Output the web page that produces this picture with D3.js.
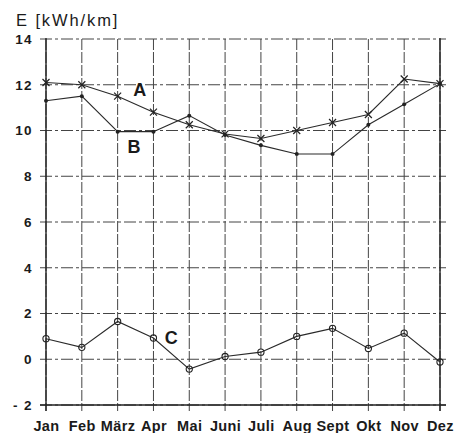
<!DOCTYPE html>
<html>
<head>
<meta charset="utf-8">
<script src="https://cdn.jsdelivr.net/npm/d3@7"></script>
<style>
  body { margin: 0; background: #fff; }
  svg { display: block; font-family: "Liberation Sans", Arial, sans-serif; }
  .grid { stroke: #444; stroke-width: 1; fill: none; }
  .grid.x { stroke-dasharray: 11 2; }
  .grid.y { stroke-dasharray: 12 3 3 3; }
  .frame { stroke: #222; stroke-width: 1.4; }
  .series { fill: none; stroke: #2a2a2a; stroke-width: 1.1; }
  .tick-label { font-weight: bold; fill: #1a1a1a; }
  .series-label { font-weight: bold; font-size: 18px; fill: #1a1a1a; }
</style>
</head>
<body>
<svg width="467" height="433"></svg>
<script>
const months = ['Jan', 'Feb', 'März', 'Apr', 'Mai', 'Juni', 'Juli', 'Aug', 'Sept', 'Okt', 'Nov', 'Dez']
    , seriesA = [12.1, 12.0, 11.5, 10.8, 10.25, 9.85, 9.65, 10.0, 10.35, 10.7, 12.25, 12.05]
    , seriesB = [11.3, 11.5, 9.95, 9.95, 10.65, 9.8, 9.35, 8.97, 8.97, 10.25, 11.15, 12.05]
    , seriesC = [0.9, 0.52, 1.65, 0.93, -0.43, 0.12, 0.31, 1.0, 1.35, 0.47, 1.14, -0.12]
    , yTicks = [-2, 0, 2, 4, 6, 8, 10, 12, 14]
    , seriesLabels = [['A', 'März', 11.5, 0.62], ['B', 'März', 9.0, 0.46], ['C', 'Apr', 0.68, 0.5]]

const plotLeft = 46
    , plotRight = 440
    , plotTop = 39
    , plotBottom = 405
    , scaleX = d3.scalePoint().domain(months).range([plotLeft, plotRight])
    , scaleY = d3.scaleLinear().domain([-2, 14]).range([plotBottom, plotTop])
    , svg = d3.select('svg')

// grid lines (dashed), extended past the axes like tick marks
svg.selectAll('line.grid.y')
    .data(yTicks)
    .join('line')
    .attr('class', 'grid y')
    .attr('x1', plotLeft - 6)
    .attr('x2', plotRight + 6)
    .attr('y1', scaleY)
    .attr('y2', scaleY)

svg.selectAll('line.grid.x')
    .data(months)
    .join('line')
    .attr('class', 'grid x')
    .attr('x1', scaleX)
    .attr('x2', scaleX)
    .attr('y1', plotTop)
    .attr('y2', plotBottom + 6)

// solid frame lines: left axis, bottom axis, right edge
svg.append('line').attr('class', 'frame')
    .attr('x1', plotLeft).attr('x2', plotLeft)
    .attr('y1', plotTop - 1).attr('y2', plotBottom + 6)
svg.append('line').attr('class', 'frame')
    .attr('x1', plotRight).attr('x2', plotRight)
    .attr('y1', plotTop - 1).attr('y2', plotBottom + 6)
svg.append('line').attr('class', 'frame')
    .attr('x1', plotLeft - 6).attr('x2', plotRight + 6)
    .attr('y1', plotBottom).attr('y2', plotBottom)

// axes, used only for labels
const axisLeft = d3.axisLeft(scaleY)
        .tickValues(yTicks)
        .tickSize(0)
        .tickPadding(13)
        .tickFormat(d => d < 0 ? '- ' + Math.abs(d) : d)
    , axisBottom = d3.axisBottom(scaleX)
        .tickSize(0)
        .tickPadding(16)

svg.append('g')
    .attr('transform', `translate(${plotLeft},0)`)
    .call(axisLeft)
    .call(g => g.select('.domain').remove())
    .call(g => g.selectAll('text')
        .attr('class', 'tick-label')
        .style('font-size', '13.5px')
        .style('letter-spacing', '1.4px')
        .style('font-family', '"Liberation Sans", Arial, sans-serif'))

svg.append('g')
    .attr('transform', `translate(0,${plotBottom})`)
    .call(axisBottom)
    .call(g => g.select('.domain').remove())
    .call(g => g.selectAll('text')
        .attr('class', 'tick-label')
        .style('font-size', '14.5px')
        .style('letter-spacing', '0.4px')
        .style('font-family', '"Liberation Sans", Arial, sans-serif'))

// unit title
svg.append('text')
    .attr('x', 16)
    .attr('y', 26)
    .style('font-size', '16.5px')
    .style('letter-spacing', '1.9px')
    .attr('fill', '#1a1a1a')
    .text('E [kWh/km]')

const line = d3.line()
    .x((d, i) => scaleX(months[i]))
    .y(d => scaleY(d))

// series A: crosses
svg.append('path').attr('class', 'series').attr('d', line(seriesA))
svg.selectAll('path.xmark')
    .data(seriesA)
    .join('path')
    .attr('class', 'xmark')
    .attr('transform', (d, i) => `translate(${scaleX(months[i])},${scaleY(d)})`)
    .attr('d', 'M-3.5,-3.5L3.5,3.5M-3.5,3.5L3.5,-3.5')
    .attr('stroke', '#222')
    .attr('stroke-width', 1.2)

// series B: small dots
svg.append('path').attr('class', 'series').attr('d', line(seriesB))
svg.selectAll('circle.dot')
    .data(seriesB)
    .join('circle')
    .attr('class', 'dot')
    .attr('cx', (d, i) => scaleX(months[i]))
    .attr('cy', scaleY)
    .attr('r', 2)
    .attr('fill', '#222')

// series C: open rings
svg.append('path').attr('class', 'series').attr('d', line(seriesC))
svg.selectAll('circle.ring')
    .data(seriesC)
    .join('circle')
    .attr('class', 'ring')
    .attr('cx', (d, i) => scaleX(months[i]))
    .attr('cy', scaleY)
    .attr('r', 3.1)
    .attr('fill', 'none')
    .attr('stroke', '#222')
    .attr('stroke-width', 1.1)

// series labels A, B, C
svg.selectAll('text.series-label')
    .data(seriesLabels)
    .join('text')
    .attr('class', 'series-label')
    .attr('text-anchor', 'middle')
    .attr('x', d => scaleX(d[1]) + d[3] * scaleX.step())
    .attr('y', d => scaleY(d[2]))
    .text(d => d[0])
</script>
</body>
</html>
